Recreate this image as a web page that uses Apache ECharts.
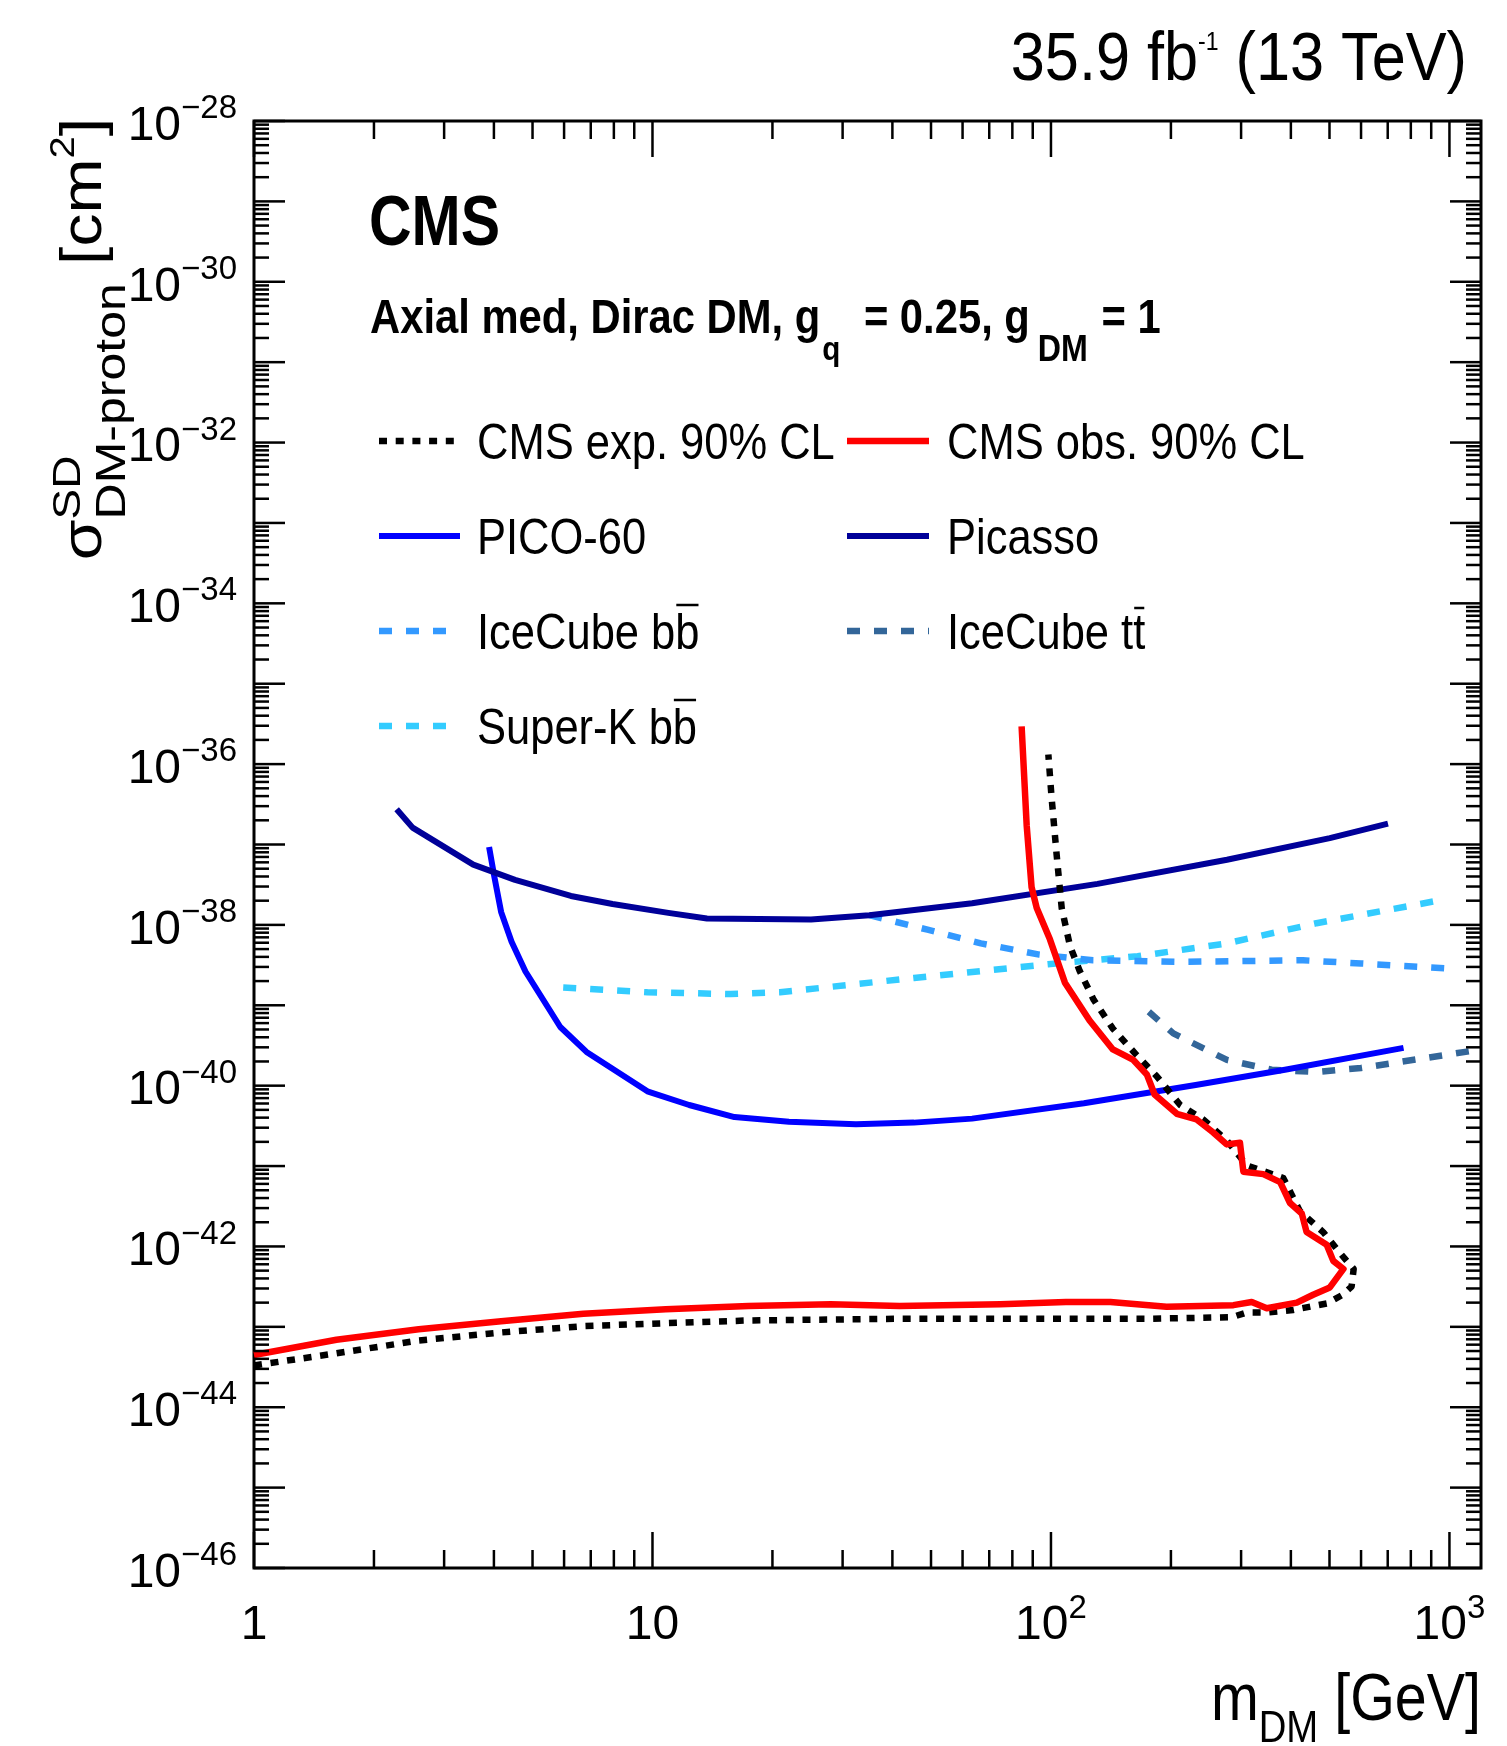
<!DOCTYPE html>
<html>
<head>
<meta charset="utf-8">
<script src="https://cdn.jsdelivr.net/npm/echarts@6/dist/echarts.min.js"></script>
<style>
  html, body { margin: 0; padding: 0; background: #fff; }
  #chart { width: 1507px; height: 1746px; }
</style>
</head>
<body>
<div id="chart"></div>
<script>
// Spin-dependent DM-proton cross-section limits (cm^2) versus DM mass (GeV)
const picassoMass = [2.28, 2.50, 3.55, 4.52, 6.24, 7.94, 10.96, 13.7, 25.0, 35.0, 63.4, 130.8, 276.5, 500.8, 701];
const picassoXsec = [2.75e-37, 1.62e-37, 5.62e-38, 3.63e-38, 2.29e-38, 1.82e-38, 1.41e-38, 1.20e-38, 1.17e-38, 1.32e-38, 1.86e-38, 3.24e-38, 6.46e-38, 1.20e-37, 1.82e-37];

const pico60Mass = [3.89, 4.01, 4.17, 4.43, 4.80, 5.87, 6.83, 9.71, 12.36, 16.06, 22.0, 32.4, 45.3, 63.4, 121, 230.7, 386.5, 767];
const pico60Xsec = [9.33e-38, 3.98e-38, 1.45e-38, 6.17e-39, 2.63e-39, 5.37e-40, 2.63e-40, 8.51e-41, 5.75e-41, 4.07e-41, 3.55e-41, 3.31e-41, 3.47e-41, 3.89e-41, 6.03e-41, 1.02e-40, 1.58e-40, 2.95e-40];

const superKMass = [5.97, 9.71, 15.7, 20.9, 45.3, 98.3, 165, 276.5, 463.7, 955];
const superKXsec = [1.66e-39, 1.45e-39, 1.38e-39, 1.45e-39, 2.19e-39, 3.24e-39, 4.07e-39, 5.89e-39, 1.05e-38, 2.04e-38];

const iceCubeBBMass = [35, 49, 66.7, 93.5, 127.5, 213.5, 429, 600, 980];
const iceCubeBBXsec = [1.32e-38, 8.71e-39, 5.89e-39, 4.27e-39, 3.63e-39, 3.47e-39, 3.63e-39, 3.31e-39, 2.88e-39];

const iceCubeTTMass = [176, 202.8, 276.5, 358, 463.7, 600, 1200];
const iceCubeTTXsec = [8.32e-40, 4.47e-40, 2.09e-40, 1.58e-40, 1.48e-40, 1.66e-40, 2.82e-40];

const cmsObsMass = [1, 1.61, 2.59, 4.17, 6.71, 10.8, 17.4, 28, 41.7, 74.6, 109, 141, 195, 287, 319, 348, 414, 455, 501, 542,
  511, 492, 438, 426, 398, 376, 341, 304, 298, 276, 255, 232, 207, 182, 174, 161, 143, 125, 108.4, 99.4, 92.1, 89.4, 86.9, 84.4];
const cmsObsXsec = [4.47e-44, 6.92e-44, 9.33e-44, 1.17e-43, 1.45e-43, 1.66e-43, 1.82e-43, 1.91e-43, 1.82e-43, 1.91e-43,
  2.04e-43, 2.04e-43, 1.78e-43, 1.86e-43, 2.04e-43, 1.70e-43, 2.00e-43, 2.51e-43, 3.09e-43, 5.25e-43,
  6.61e-43, 1.05e-42, 1.51e-42, 2.57e-42, 3.47e-42, 6.31e-42, 7.94e-42, 8.51e-42, 1.95e-41, 1.86e-41,
  2.63e-41, 3.80e-41, 4.47e-41, 7.76e-41, 1.38e-40, 2.09e-40, 2.82e-40, 6.46e-40, 1.91e-39, 6.61e-39,
  1.62e-38, 2.95e-38, 1.74e-37, 2.95e-36];

const cmsExpMass = [1, 1.61, 2.59, 4.17, 6.71, 10.8, 17.4, 41.7, 176.6, 285, 310, 348, 405, 492, 540, 568, 575, 531, 482, 421.5,
  383, 310, 276, 241, 211, 184, 164, 143, 128, 118, 111.6, 106.4, 103.3, 100.3, 98.5];
const cmsExpXsec = [3.31e-44, 4.68e-44, 6.76e-44, 8.51e-44, 1.02e-43, 1.11e-43, 1.20e-43, 1.26e-43, 1.26e-43, 1.32e-43,
  1.51e-43, 1.51e-43, 1.62e-43, 1.95e-43, 2.51e-43, 3.16e-43, 5.25e-43, 8.32e-43, 1.51e-42, 2.75e-42,
  7.08e-42, 1.02e-41, 2.09e-41, 3.80e-41, 5.75e-41, 1.32e-40, 2.40e-40, 5.13e-40, 1.17e-39, 2.69e-39,
  5.50e-39, 1.62e-38, 7.59e-38, 3.98e-37, 1.32e-36];

// Axis ranges, labelled decades and minor tick mantissas
const massRange = [1, 1200];
const xsecRange = [1e-46, 1e-28];
const xLabelExponents = [0, 1, 2, 3];
const yLabelExponents = [-46, -44, -42, -40, -38, -36, -34, -32, -30, -28];
const xDecadeExponents = [0, 1, 2, 3];
const yDecadeExponents = [-46, -45, -44, -43, -42, -41, -40, -39, -38, -37, -36, -35, -34, -33, -32, -31, -30, -29, -28];
const minorMantissas = [2, 3, 4, 5, 6, 7, 8, 9];

// Legend texts (two columns, four rows)
const legendLabels = ['CMS exp. 90% CL', 'CMS obs. 90% CL', 'PICO-60', 'Picasso', 'IceCube bb', 'IceCube tt', 'Super-K bb'];

// ---------------------------------------------------------------------------
// Fonts: a narrow Helvetica-like face for horizontal text, the regular face for the rotated title
const measCtx = document.createElement('canvas').getContext('2d');
function fontAvailable(name) {
  const probe = 'CMS exp. 90% CL 0123456789 mwMW';
  measCtx.font = '40px monospace';
  const w0 = measCtx.measureText(probe).width;
  measCtx.font = '40px "' + name + '", monospace';
  return Math.abs(measCtx.measureText(probe).width - w0) > 0.5;
}
const REGULAR = '"Liberation Sans", Arial, sans-serif';
const hasNarrow = fontAvailable('Liberation Sans Narrow');
const FAMILY = hasNarrow ? '"Liberation Sans Narrow", ' + REGULAR : REGULAR;
const SQUEEZE = hasNarrow ? 1.07 : 0.87;

function textWidth(t, size, weight, family, sx) {
  measCtx.font = (weight || 'normal') + ' ' + size + 'px ' + (family || FAMILY);
  return measCtx.measureText(t).width * (sx == null ? SQUEEZE : sx);
}
function textEl(t, x, y, size, weight, opt) {
  opt = opt || {};
  return {
    type: 'text', x: x, y: y,
    scaleX: opt.sx == null ? SQUEEZE : opt.sx, scaleY: opt.sy == null ? 1 : opt.sy,
    z: 100, silent: true,
    style: {
      text: t, fontSize: size, fontFamily: opt.family || FAMILY, fontWeight: weight || 'normal',
      fill: '#000', align: opt.align || 'left', verticalAlign: 'middle'
    }
  };
}
// Lay text pieces out left to right; "over" pieces stack with the next one, "dx" adds space before a piece.
function runLayout(pieces, x, y, opt) {
  opt = opt || {};
  const out = [];
  let cx = x, pending = 0;
  pieces.forEach(p => {
    cx += p.dx || 0;
    const pw = textWidth(p.t, p.size, p.weight, opt.family, opt.sx);
    out.push(textEl(p.t, cx, y + (p.dy || 0), p.size, p.weight, opt));
    if (p.over) pending = Math.max(pending, pw);
    else { cx += Math.max(pw, pending); pending = 0; }
  });
  return { els: out, width: cx - x };
}

// ---------------------------------------------------------------------------
const styles = {
  exp:     { color: '#000000', width: 6.5, dash: [8, 8.7] },
  obs:     { color: '#ff0000', width: 6.5, dash: 'solid' },
  pico:    { color: '#0000ff', width: 6,   dash: 'solid' },
  picasso: { color: '#000099', width: 6,   dash: 'solid' },
  icbb:    { color: '#3399ff', width: 6.5, dash: [13, 14] },
  ictt:    { color: '#336699', width: 6.5, dash: [13, 14] },
  superk:  { color: '#33ccff', width: 6.5, dash: [13, 14] }
};

function pairs(xs, ys) { return xs.map((x, i) => [x, ys[i]]); }
function lineSeries(name, xs, ys, st, z) {
  return {
    type: 'line', name: name, data: pairs(xs, ys),
    symbol: 'none', showSymbol: false, smooth: false, clip: true,
    lineStyle: { color: st.color, width: st.width, type: st.dash, cap: 'butt', join: 'round' },
    emphasis: { disabled: true }, silent: true, animation: false, z: z
  };
}

// Tick marks on all four sides of the frame, placed through the axis scales
const xTickData = [];
xDecadeExponents.forEach(e => {
  xTickData.push([Math.pow(10, e), xsecRange[0], 1]);
  if (e < 3) minorMantissas.forEach(m => xTickData.push([m * Math.pow(10, e), xsecRange[0], 0]));
});
const yTickData = [];
yDecadeExponents.forEach(e => {
  yTickData.push([massRange[0], Math.pow(10, e), 1]);
  if (e < -28) minorMantissas.forEach(m => yTickData.push([massRange[0], m * Math.pow(10, e), 0]));
});
const tickStyle = { stroke: '#000', lineWidth: 2.5 };
function renderXTick(params, api) {
  const v = api.value(0);
  const len = api.value(2) ? 36 : 18;
  const b = api.coord([v, xsecRange[0]]);
  const t = api.coord([v, xsecRange[1]]);
  return {
    type: 'group', children: [
      { type: 'line', shape: { x1: b[0], y1: b[1], x2: b[0], y2: b[1] - len }, style: tickStyle },
      { type: 'line', shape: { x1: t[0], y1: t[1], x2: t[0], y2: t[1] + len }, style: tickStyle }
    ]
  };
}
function renderYTick(params, api) {
  const v = api.value(1);
  const len = api.value(2) ? 31 : 15;
  const l = api.coord([massRange[0], v]);
  const r = api.coord([massRange[1], v]);
  return {
    type: 'group', children: [
      { type: 'line', shape: { x1: l[0], y1: l[1], x2: l[0] + len, y2: l[1] }, style: tickStyle },
      { type: 'line', shape: { x1: r[0], y1: r[1], x2: r[0] - len, y2: r[1] }, style: tickStyle }
    ]
  };
}

// Decade labels: 1, 10, 10^n with raised exponents, placed through the axis scales
const labelRich = {
  m: { fontSize: 48, fontFamily: FAMILY, fill: '#000', verticalAlign: 'bottom', padding: [11, 0, 0, 0] },
  s: { fontSize: 33, fontFamily: FAMILY, fill: '#000', verticalAlign: 'bottom', padding: [0, 0, 25, 0] }
};
function decadeText(e) {
  if (e === 0) return '{m|1}';
  if (e === 1) return '{m|10}';
  return '{m|10}{s|' + (e < 0 ? '\u2212' + (-e) : e) + '}';
}
const xLabelData = xLabelExponents.map(e => [Math.pow(10, e), xsecRange[0], e]);
const yLabelData = yLabelExponents.map(e => [massRange[0], Math.pow(10, e), e]);
function renderXLabel(params, api) {
  const p = api.coord([api.value(0), xsecRange[0]]);
  return {
    type: 'text', x: p[0], y: p[1] + 23,
    style: { text: decadeText(api.value(2)), rich: labelRich, align: 'center', verticalAlign: 'top', fill: '#000' }
  };
}
function renderYLabel(params, api) {
  const p = api.coord([massRange[0], api.value(1)]);
  return {
    type: 'text', x: p[0] - 17, y: p[1],
    style: { text: decadeText(api.value(2)), rich: labelRich, align: 'right', verticalAlign: 'middle', fill: '#000' }
  };
}

// ---------------------------------------------------------------------------
// Free texts
const graphics = [];

// Luminosity / energy, right aligned above the frame
const lumiPieces = [
  { t: '35.9 fb', size: 69 },
  { t: '-1', size: 26, dy: -18 },
  { t: ' (13 TeV)', size: 69 }
];
const lumiOpt = { sx: SQUEEZE * 1.02 };
const lumiW = runLayout(lumiPieces, 0, 0, lumiOpt).width;
graphics.push(...runLayout(lumiPieces, 1467 - lumiW, 61, lumiOpt).els);

// CMS label and model description
graphics.push(textEl('CMS', 369, 225, 71, 'bold', { sx: SQUEEZE * 0.955 }));
graphics.push(...runLayout([
  { t: 'Axial med, Dirac DM, g', size: 48, weight: 'bold' },
  { t: 'q', size: 34, weight: 'bold', dy: 31, dx: 2 },
  { t: ' = 0.25, g', size: 48, weight: 'bold', dx: 12 },
  { t: 'DM', size: 37, weight: 'bold', dy: 31, dx: 8 },
  { t: ' = 1', size: 48, weight: 'bold', dx: 2 }
], 370, 320).els);

// x-axis title, right aligned with the frame
const xTitle = [
  { t: 'm', size: 66 },
  { t: 'DM', size: 44, dy: 28 },
  { t: ' [GeV]', size: 66 }
];
const xTitleW = runLayout(xTitle, 0, 0).width;
graphics.push(...runLayout(xTitle, 1481 - xTitleW, 1702).els);

// y-axis title, rotated, ending at the top of the frame
const yTitle = [
  { t: '\u03c3', size: 66 },
  { t: 'SD', size: 46, dy: -16, over: true },
  { t: 'DM-proton', size: 50, dy: 28 },
  { t: ' [cm', size: 66 },
  { t: '2', size: 40, dy: -20 },
  { t: ']', size: 66 }
];
const yTitleOpt = { family: REGULAR, sx: 1, sy: 0.86 };
const yTitleRun = runLayout(yTitle, 0, 0, yTitleOpt);
graphics.push({
  type: 'group', x: 85, y: 118 + yTitleRun.width, rotation: Math.PI / 2, z: 100,
  children: yTitleRun.els
});

// Legend: line sample + label, two columns
const legendCols = [{ x0: 379, x1: 460, tx: 477 }, { x0: 847, x1: 929, tx: 947 }];
const legendRows = [441, 536, 631, 726];
const legendStyles = ['exp', 'obs', 'pico', 'picasso', 'icbb', 'ictt', 'superk'];
const legendSize = 50;
legendLabels.forEach((label, i) => {
  const col = legendCols[i % 2], rowY = legendRows[Math.floor(i / 2)];
  const st = styles[legendStyles[i]];
  graphics.push({
    type: 'line', z: 100, silent: true,
    shape: { x1: col.x0, y1: rowY, x2: col.x1, y2: rowY },
    style: { stroke: st.color, lineWidth: st.width, lineDash: st.dash === 'solid' ? null : st.dash, lineCap: 'butt' }
  });
  graphics.push(textEl(label, col.tx, rowY + 4, legendSize));
  // anti-particle bar over the last letter
  if (/ (bb|tt)$/.test(label)) {
    const last = label.slice(-1);
    const start = col.tx + textWidth(label.slice(0, -1), legendSize);
    const w = textWidth(last, legendSize);
    const barY = rowY - (last === 'b' ? 26 : 23);
    graphics.push({
      type: 'line', z: 100, silent: true,
      shape: { x1: start + 1, y1: barY, x2: start + w - 1, y2: barY },
      style: { stroke: '#000', lineWidth: 2.5 }
    });
  }
});

// ---------------------------------------------------------------------------
const chart = echarts.init(document.getElementById('chart'), null, { renderer: 'canvas', width: 1507, height: 1746 });
chart.setOption({
  animation: false,
  backgroundColor: '#ffffff',
  grid: {
    left: 254, top: 121, width: 1227, height: 1447,
    show: true, borderColor: '#000', borderWidth: 3, backgroundColor: 'transparent',
    containLabel: false, outerBoundsMode: 'none'
  },
  xAxis: {
    type: 'log', logBase: 10, min: massRange[0], max: massRange[1],
    axisLine: { show: false }, axisTick: { show: false }, splitLine: { show: false },
    minorTick: { show: false }, minorSplitLine: { show: false },
    axisLabel: { show: false }
  },
  yAxis: {
    type: 'log', logBase: 10, min: xsecRange[0], max: xsecRange[1],
    axisLine: { show: false }, axisTick: { show: false }, splitLine: { show: false },
    minorTick: { show: false }, minorSplitLine: { show: false },
    axisLabel: { show: false }
  },
  series: [
    lineSeries('Super-K bb', superKMass, superKXsec, styles.superk, 2),
    lineSeries('IceCube bb', iceCubeBBMass, iceCubeBBXsec, styles.icbb, 3),
    lineSeries('IceCube tt', iceCubeTTMass, iceCubeTTXsec, styles.ictt, 4),
    lineSeries('PICO-60', pico60Mass, pico60Xsec, styles.pico, 5),
    lineSeries('Picasso', picassoMass, picassoXsec, styles.picasso, 6),
    lineSeries('CMS exp. 90% CL', cmsExpMass, cmsExpXsec, styles.exp, 7),
    lineSeries('CMS obs. 90% CL', cmsObsMass, cmsObsXsec, styles.obs, 8),
    {
      type: 'custom', coordinateSystem: 'cartesian2d', data: xTickData, encode: { x: 0, y: 1 },
      renderItem: renderXTick, silent: true, animation: false, z: 20
    },
    {
      type: 'custom', coordinateSystem: 'cartesian2d', data: yTickData, encode: { x: 0, y: 1 },
      renderItem: renderYTick, silent: true, animation: false, z: 20
    },
    {
      type: 'custom', coordinateSystem: 'cartesian2d', data: xLabelData, encode: { x: 0, y: 1 },
      renderItem: renderXLabel, silent: true, animation: false, z: 20
    },
    {
      type: 'custom', coordinateSystem: 'cartesian2d', data: yLabelData, encode: { x: 0, y: 1 },
      renderItem: renderYLabel, silent: true, animation: false, z: 20
    }
  ],
  graphic: { elements: graphics }
});
</script>
</body>
</html>
